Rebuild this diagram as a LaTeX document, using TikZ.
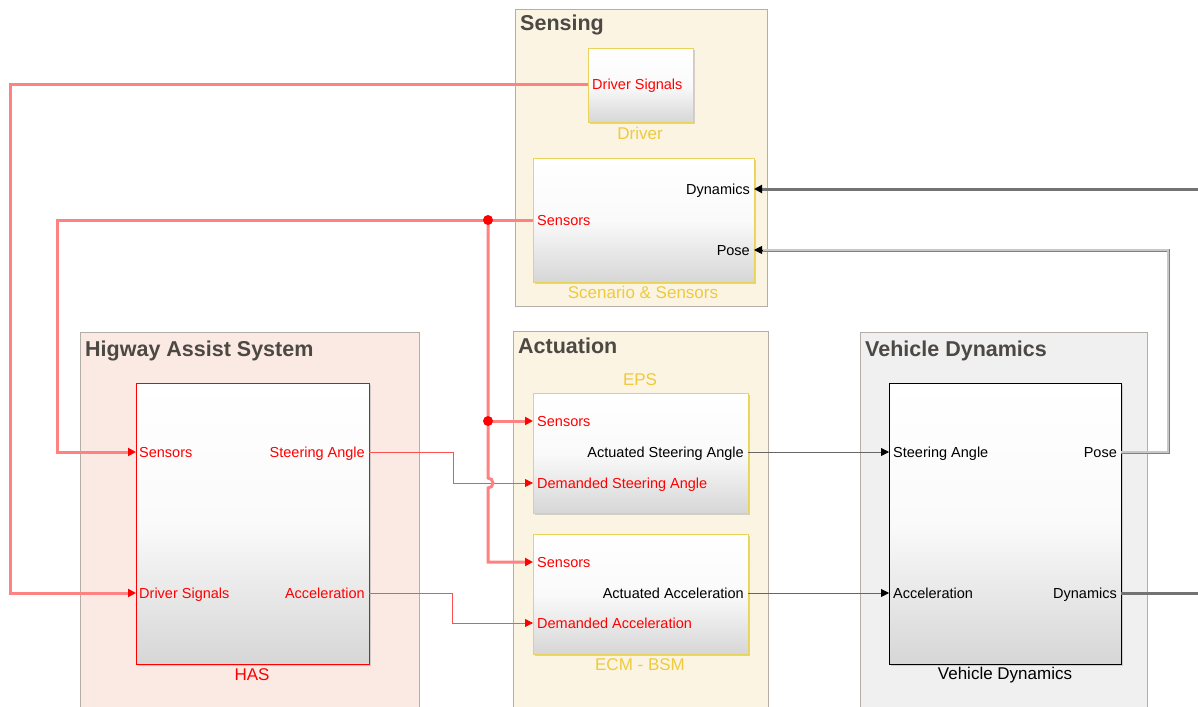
\documentclass[tikz,border=0pt]{standalone}
\usepackage{fontspec}
\setmainfont{Liberation Sans}
\usetikzlibrary{arrows.meta,shadows}
\definecolor{simred}{RGB}{255,0,0}
\definecolor{busred}{RGB}{255,130,130}
\definecolor{sigred}{RGB}{255,80,80}
\definecolor{namegold}{RGB}{238,202,60}
\definecolor{blkgold}{RGB}{232,212,90}
\definecolor{areaedge}{RGB}{180,174,168}
\definecolor{titlegray}{RGB}{76,73,68}
\definecolor{sensfill}{RGB}{251,244,227}
\definecolor{hasfill}{RGB}{251,234,228}
\definecolor{vdfill}{RGB}{240,240,240}
\newcommand\portfont{\fontsize{14.5}{17}\selectfont}
\newcommand\namefont{\fontsize{17}{20}\selectfont}
\newcommand\areafont{\fontsize{21.5}{25}\selectfont\bfseries}

\begin{document}
\begin{tikzpicture}[x=1pt,y=-1pt,
  area/.style={draw=areaedge,line width=0.8pt,anchor=north west,inner sep=0pt},
  areatitle/.style={anchor=base west,font=\areafont,text=titlegray,inner sep=0pt,yshift=-8pt},
  blk/.style={line width=1pt,anchor=north west,inner sep=0pt,top color=white,bottom color=black!16,middle color=black!2,
    drop shadow={opacity=0.3,shadow xshift=1.5pt,shadow yshift=-1.5pt}},
  inport/.style={anchor=base west,font=\portfont,inner sep=1pt,yshift=-5pt},
  outport/.style={anchor=base east,font=\portfont,inner sep=1pt,yshift=-5pt},
  blkname/.style={font=\namefont,inner sep=0pt},
  bus/.style={draw=busred,line width=3pt},
  sig/.style={draw=sigred,line width=0.8pt},
  gsig/.style={draw=black!60,line width=0.8pt},
  gbus/.style={draw=black!55,line width=3pt},
  pbus/.style={draw=black!50,double=black!22,line width=0.8pt,double distance=1.4pt},
  rtip/.style={-{Triangle[length=8pt,width=8pt,color=simred]}},
  ktip/.style={-{Triangle[length=8pt,width=8pt,color=black]}}]
\useasboundingbox (0,0) rectangle (1198,706);

\node[area,fill=sensfill,minimum width=252,minimum height=297] (sensing) at (515,9) {};
\node[area,fill=hasfill,minimum width=339,minimum height=390] (hasarea) at (80,332) {};
\node[area,fill=sensfill,minimum width=255,minimum height=390] (actuation) at (513,331) {};
\node[area,fill=vdfill,minimum width=287,minimum height=390] (vdarea) at (860,332) {};
\node[areatitle] (sensingT) at (520,23) {Sensing};
\node[areatitle] (hasareaT) at (85,348) {Higway Assist System};
\node[areatitle] (actuationT) at (518,345) {Actuation};
\node[areatitle] (vdareaT) at (865,348) {Vehicle Dynamics};

\node[blk,draw=blkgold,minimum width=105,minimum height=74] (drv) at (588,48) {};
\node[blk,draw=blkgold,minimum width=221,minimum height=124] (scn) at (533,158) {};
\node[blk,draw=simred,minimum width=233,minimum height=281] (has) at (136,383) {};
\node[blk,draw=blkgold,minimum width=215,minimum height=120] (eps) at (533,393) {};
\node[blk,draw=blkgold,minimum width=215,minimum height=120] (ecm) at (533,534) {};
\node[blk,draw=black,minimum width=232,minimum height=281] (vd) at (889,383) {};

\node[blkname,text=namegold] (drvN) at (640,133) {Driver};
\node[blkname,text=namegold] (scnN) at (643,292) {Scenario \& Sensors};
\node[blkname,text=simred] (hasN) at (252,675) {HAS};
\node[blkname,text=namegold] (epsN) at (640,380) {EPS};
\node[blkname,text=namegold] (ecmN) at (640,665) {ECM - BSM};
\node[blkname,text=black] (vdN) at (1005,675) {Vehicle Dynamics};

\node[inport,text=simred] (drvDS) at (591,85) {Driver Signals};
\node[outport] (scnDynL) at (751,189) {Dynamics};
\node[inport,text=simred] (scnSensL) at (536,220) {Sensors};
\node[outport] (scnPoseL) at (751,250) {Pose};
\node[inport,text=simred] (hasSensL) at (138,452) {Sensors};
\node[outport,text=simred] (hasSteerL) at (366,452) {Steering Angle};
\node[inport,text=simred] (hasDSL) at (138,593) {Driver Signals};
\node[outport,text=simred] (hasAccL) at (366,593) {Acceleration};
\node[inport,text=simred] (epsSensL) at (536,421) {Sensors};
\node[outport] (epsActL) at (745,452) {Actuated Steering Angle};
\node[inport,text=simred] (epsDemL) at (536,483) {Demanded Steering Angle};
\node[inport,text=simred] (ecmSensL) at (536,562) {Sensors};
\node[outport] (ecmActL) at (745,593) {Actuated Acceleration};
\node[inport,text=simred] (ecmDemL) at (536,623) {Demanded Acceleration};
\node[inport] (vdSteerL) at (892,452) {Steering Angle};
\node[outport] (vdPoseL) at (1118,452) {Pose};
\node[inport] (vdAccL) at (892,593) {Acceleration};
\node[outport] (vdDynL) at (1118,593) {Dynamics};

\coordinate (drvOut) at (588,85);
\coordinate (scnDyn) at (754,189);
\coordinate (scnSens) at (533,220);
\coordinate (scnPose) at (754,250);
\coordinate (hasIn1) at (136,452);
\coordinate (hasOut1) at (369,452);
\coordinate (hasIn2) at (136,593);
\coordinate (hasOut2) at (369,593);
\coordinate (epsIn1) at (533,421);
\coordinate (epsOut) at (748,452);
\coordinate (epsIn2) at (533,483);
\coordinate (ecmIn1) at (533,562);
\coordinate (ecmOut) at (748,593);
\coordinate (ecmIn2) at (533,623);
\coordinate (vdIn1) at (889,452);
\coordinate (vdOut1) at (1121,452);
\coordinate (vdIn2) at (889,593);
\coordinate (vdOut2) at (1121,593);
\coordinate (jA) at (488,220);
\coordinate (jB) at (488,421);
\coordinate (dynIn) at (1198,189);
\coordinate (dynOut) at (1198,593);

\draw[sig,rtip] (hasOut1) -- (453,452) |- (epsIn2);
\draw[sig,rtip] (hasOut2) -- (452,593) |- (ecmIn2);
\draw[bus,rtip] (drvOut) -- (10,85) |- (hasIn2);
\draw[bus,rtip] (scnSens) -- (57,220) |- (hasIn1);
\draw[bus,rtip] (jA) -- (488,478) arc[start angle=90,end angle=-90,radius=5pt] |- (ecmIn1);
\draw[bus,rtip] (jB) -- (epsIn1);
\fill[simred] (jA) circle (5pt);
\fill[simred] (jB) circle (5pt);
\draw[gsig,ktip] (epsOut) -- (vdIn1);
\draw[gsig,ktip] (ecmOut) -- (vdIn2);
\draw[gbus,ktip] (dynIn) -- (scnDyn);
\draw[gbus] (vdOut2) -- (dynOut);
\draw[pbus] (vdOut1) -- (1168,452) |- ([xshift=7pt]scnPose);
\draw[ktip,line width=0.8pt] ([xshift=8pt]scnPose) -- (scnPose);
\end{tikzpicture}
\end{document}
